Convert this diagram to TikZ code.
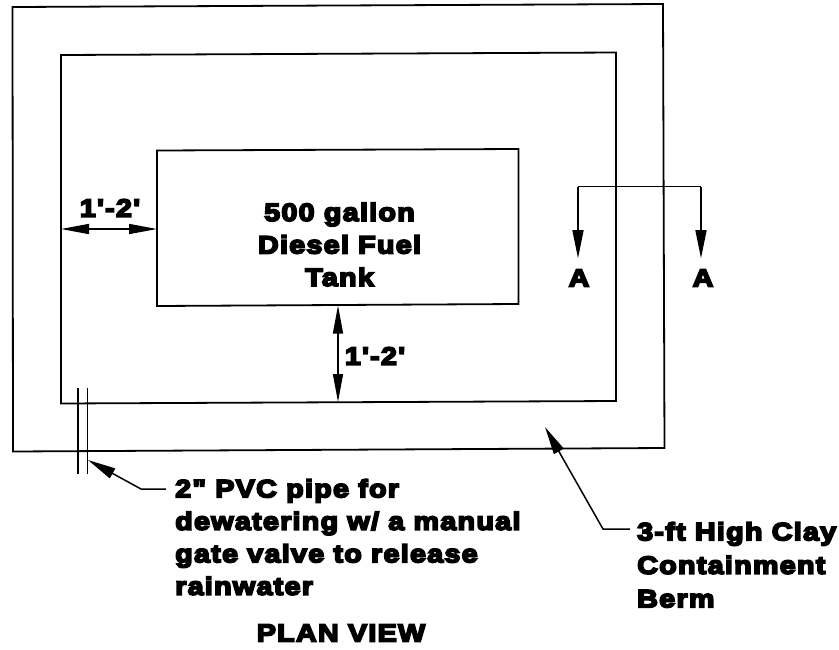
\documentclass[tikz,border=0pt]{standalone}
\usepackage{fontspec}
\usetikzlibrary{arrows.meta}
\newfontfamily\plotfont[FakeBold=7,FakeStretch=1.15,LetterSpace=5]{Liberation Sans Bold}
\tikzset{
	wall/.style={line width=1.8pt},
	thin line/.style={line width=1.5pt},
	tip line/.style={line width=1.5pt, -{Triangle[length=28pt,width=11pt]}},
	both tips/.style={line width=1.5pt, {Triangle[length=28pt,width=10pt]}-{Triangle[length=28pt,width=10pt]}},
	tag/.style={font=\plotfont\fontsize{25}{32.5}\selectfont, inner sep=0pt}
}
\begin{document}
\begin{tikzpicture}[x=1pt, y=-1pt]
	\useasboundingbox (0, 0) rectangle (839, 649);

	% berm and tank
	\draw [wall] (12.5, 7) -- (663, 4) -- (664.5, 448) -- (13, 451.5) -- cycle;
	\draw [wall] (61, 55) -- (616, 52.5) -- (616, 401) -- (61, 403.5) -- cycle;
	\draw [wall] (157, 150.5) -- (518.5, 149) -- (518.5, 304) -- (157, 306) -- cycle;
	\node [tag, align=center] (tank) at (339.5, 244.5) {500 gallon\\Diesel Fuel\\Tank};

	% section line
	\coordinate (cutL) at (578, 186.5);
	\coordinate (cutR) at (701, 186.5);
	\node [tag] (labelL) at (579, 278) {A};
	\node [tag] (labelR) at (703, 278) {A};
	\draw [thin line] (cutL) -- (cutR);
	\draw [tip line] (cutL) -- ([yshift=11pt]labelL.north -| cutL);
	\draw [tip line] (cutR) -- ([yshift=11pt]labelR.north -| cutR);

	% dimensions
	\coordinate (wallW) at (61, 229);
	\coordinate (tankW) at (157, 229);
	\coordinate (tankS) at (338, 305.5);
	\coordinate (wallS) at (338, 402);
	\draw [both tips] (wallW) -- (tankW);
	\draw [both tips] (tankS) -- (wallS);
	\node [tag] (dimW) at (110, 208) {1'-2'};
	\node [tag] (dimS) at (375, 356) {1'-2'};

	% pipe
	\coordinate (pipeA) at (78, 388);
	\coordinate (pipeB) at (78, 474);
	\coordinate (pipeC) at (87.5, 388);
	\coordinate (pipeD) at (87.5, 474);
	\draw [thin line] (pipeA) -- (pipeB) (pipeC) -- (pipeD);

	% notes
	\node [tag, align=left, anchor=north west] (pipe) at (175, 479) {2" PVC pipe for\\dewatering w/ a manual\\gate valve to release\\rainwater};
	\node [tag, align=left, anchor=north west] (berm) at (637, 522) {3-ft High Clay\\[1pt]Containment\\[1pt]Berm};
	\node [tag] (title) at (341, 633) {PLAN VIEW};
	\coordinate (pipeTip) at (88, 460);
	\coordinate (bermTip) at (545, 427);
	\draw [tip line] (pipe.west |- 0, 489) ++(-9, 0) -- (141, 489) -- (pipeTip);
	\draw [tip line] (berm.west |- 0, 529) ++(-7, 0) -- (603, 529) -- (bermTip);
\end{tikzpicture}
\end{document}
